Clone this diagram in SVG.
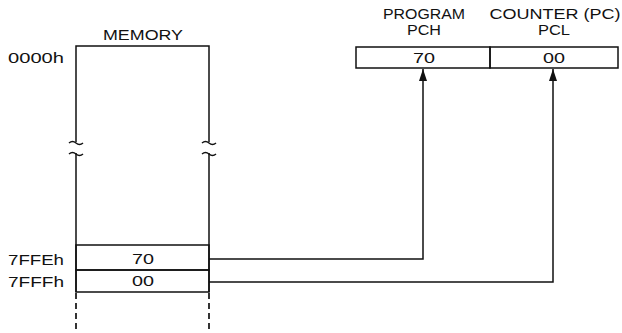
<svg xmlns="http://www.w3.org/2000/svg" width="622" height="333" viewBox="0 0 622 333">
<style>
text{font-family:"Liberation Sans",Arial,sans-serif;font-size:15.5px;fill:#111}
.h{font-size:14px}
.ln{stroke:#111;stroke-width:1.5;fill:none}
.dash{stroke:#111;stroke-width:1.7;fill:none;stroke-dasharray:6,4}
.c{text-anchor:middle}
</style>
<defs>
<marker id="arr" viewBox="0 0 12 8" refX="12" refY="4" markerWidth="12" markerHeight="8" markerUnits="userSpaceOnUse" orient="auto">
<path d="M0,0 L12,4 L0,8 Z" fill="#111"/>
</marker>
</defs>
<g id="memory">
<text class="c" x="143" y="40" textLength="80" lengthAdjust="spacingAndGlyphs">MEMORY</text>
<text x="8" y="63" textLength="56" lengthAdjust="spacingAndGlyphs">0000h</text>
<path class="ln" d="M76,142 V46 H209 V142"/>
<path class="ln" d="M76,153 V292 M209,153 V292"/>
<path class="ln" d="M69,143 q3.5,-3 7,0 t7,0 M69,154 q3.5,-3 7,0 t7,0"/>
<path class="ln" d="M202,143 q3.5,-3 7,0 t7,0 M202,154 q3.5,-3 7,0 t7,0"/>
<path class="dash" d="M76,293 V333 M209,293 V333"/>
</g>
<g id="row-7FFE">
<path class="ln" d="M76,245 H209 V270 H76 Z"/>
<text x="8" y="265" textLength="56" lengthAdjust="spacingAndGlyphs">7FFEh</text>
<text class="c" x="143" y="264" textLength="22" lengthAdjust="spacingAndGlyphs">70</text>
</g>
<g id="row-7FFF">
<path class="ln" d="M76,270 H209 V292 H76 Z"/>
<text x="8" y="287" textLength="56" lengthAdjust="spacingAndGlyphs">7FFFh</text>
<text class="c" x="143" y="286" textLength="22" lengthAdjust="spacingAndGlyphs">00</text>
</g>
<g id="pc">
<text class="c h" x="424" y="19" textLength="82" lengthAdjust="spacingAndGlyphs">PROGRAM</text>
<text class="c h" x="555" y="19" textLength="131" lengthAdjust="spacingAndGlyphs">COUNTER (PC)</text>
</g>
<g id="pch">
<text class="c h" x="424" y="35" textLength="34" lengthAdjust="spacingAndGlyphs">PCH</text>
<rect class="ln" x="356" y="47" width="134" height="21"/>
<text class="c" x="424" y="63" textLength="22" lengthAdjust="spacingAndGlyphs">70</text>
</g>
<g id="pcl">
<text class="c h" x="554" y="35" textLength="32" lengthAdjust="spacingAndGlyphs">PCL</text>
<rect class="ln" x="490" y="47" width="128" height="21"/>
<text class="c" x="554" y="63" textLength="22" lengthAdjust="spacingAndGlyphs">00</text>
</g>
<g id="connectors">
<path class="ln" d="M209,259 H423 V69" marker-end="url(#arr)"/>
<path class="ln" d="M209,282 H553 V69" marker-end="url(#arr)"/>
</g>
</svg>
